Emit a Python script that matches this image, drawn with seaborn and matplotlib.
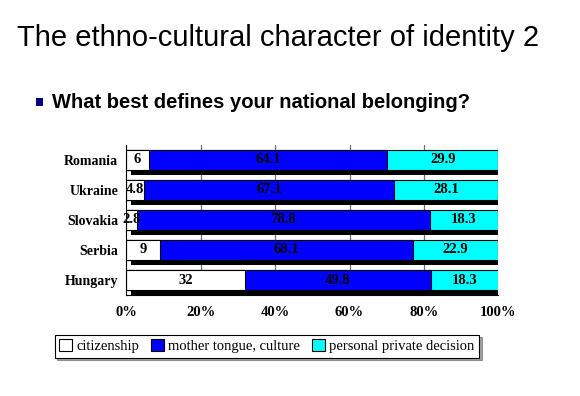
import matplotlib
matplotlib.use("Agg")
import matplotlib.pyplot as plt
import matplotlib.patheffects as pe
from matplotlib.patches import Rectangle
import numpy as np
import pandas as pd
import seaborn as sns

sns.set_theme(style="white")
plt.rcParams["font.family"] = ["Liberation Serif", "DejaVu Serif"]
plt.rcParams["text.color"] = "black"
plt.rcParams["xtick.color"] = "black"
plt.rcParams["ytick.color"] = "black"

countries = ["Romania", "Ukraine", "Slovakia", "Serbia", "Hungary"]
citizenship = [6, 4.8, 2.8, 9, 32]
mother_tongue = [64.1, 67.1, 78.8, 68.1, 49.8]
personal = [29.9, 28.1, 18.3, 22.9, 18.3]
series_names = ["citizenship", "mother tongue, culture", "personal private decision"]
colors = ["#ffffff", "#0000ff", "#00ffff"]

df = pd.DataFrame({
    "country": countries,
    "citizenship": citizenship,
    "mother": mother_tongue,
    "personal": personal,
})
df["cum1"] = df["citizenship"]
df["cum2"] = df["cum1"] + df["mother"]
df["cum3"] = df["cum2"] + df["personal"]

fig = plt.figure(figsize=(5.8, 3.96), dpi=100)
ax = fig.add_axes([0.218, 0.255, 0.641, 0.379])

bar_w = 0.68
# widest first, then overlay the shorter cumulative bars
sns.barplot(data=df, x="cum3", y="country", orient="h", color=colors[2],
            width=bar_w, edgecolor="black", linewidth=0.8, saturation=1, ax=ax)
for p in ax.patches:
    p.set_path_effects([pe.SimplePatchShadow(offset=(3.5, -3.5), shadow_rgbFace="black", alpha=1),
                        pe.Normal()])
sns.barplot(data=df, x="cum2", y="country", orient="h", color=colors[1],
            width=bar_w, edgecolor="black", linewidth=0.8, saturation=1, ax=ax)
sns.barplot(data=df, x="cum1", y="country", orient="h", color=colors[0],
            width=bar_w, edgecolor="black", linewidth=0.8, saturation=1, ax=ax)

# segment labels
for i, row in df.iterrows():
    starts = [0, row["cum1"], row["cum2"]]
    vals = [row["citizenship"], row["mother"], row["personal"]]
    for s, v in zip(starts, vals):
        ax.text(s + v / 2, i, f"{v:g}", ha="center", va="center",
                fontsize=10.5, fontweight="bold", color="black")

ax.set_xlim(0, 100)
ax.set_ylim(4.5, -0.5)
ax.set_xticks(np.arange(0, 101, 20))
ax.set_xticklabels([f"{t}%" for t in range(0, 101, 20)], fontsize=10.5, fontweight="bold")
ax.set_yticks(range(len(countries)))
ax.set_yticklabels(countries, fontsize=10, fontweight="bold")
ax.set_yticks(np.arange(-0.5, 5, 1), minor=True)
ax.tick_params(axis="y", which="major", length=0, pad=6)
ax.tick_params(axis="y", which="minor", length=4, direction="out", color="black", width=0.8)
ax.tick_params(axis="x", length=4, direction="out", color="black", width=0.8, pad=4)
ax.set_xlabel("")
ax.set_ylabel("")
for xv in ax.get_xticks()[1:]:
    ax.axvline(xv, color="#707070", linewidth=0.9, zorder=0)
for side in ["top", "right"]:
    ax.spines[side].set_visible(False)
for side in ["left", "bottom"]:
    ax.spines[side].set_color("black")
    ax.spines[side].set_linewidth(0.8)

handles = [Rectangle((0, 0), 1, 1, facecolor=c, edgecolor="black", linewidth=0.8) for c in colors]
leg = fig.legend(handles, series_names, loc="center", bbox_to_anchor=(0.46, 0.126), ncol=3,
                 frameon=True, fancybox=False, shadow=True, edgecolor="black",
                 fontsize=10.5, handlelength=0.9, handleheight=0.9, handletextpad=0.3,
                 columnspacing=0.8, borderpad=0.3)
leg.get_frame().set_linewidth(0.8)

fig.text(0.03, 0.905, "The ethno-cultural character of identity 2", fontsize=21,
         family=["Liberation Sans", "DejaVu Sans"], va="center")
fig.patches.append(Rectangle((0.062, 0.733), 0.0125, 0.0185, transform=fig.transFigure,
                             facecolor="#000080", edgecolor="none"))
fig.text(0.09, 0.742, "What best defines your national belonging?", fontsize=14.5,
         fontweight="bold", family=["Liberation Sans", "DejaVu Sans"], va="center")

fig.savefig("out.png", dpi=100)
